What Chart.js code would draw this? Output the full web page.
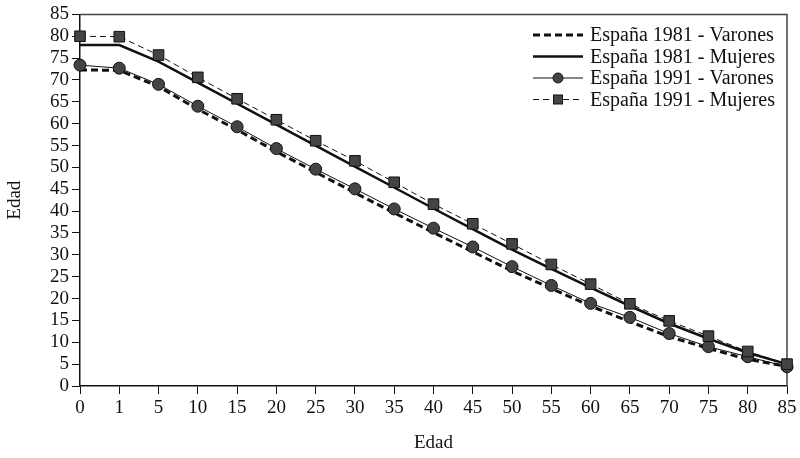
<!DOCTYPE html>
<html>
<head>
<meta charset="utf-8">
<script src="https://cdn.jsdelivr.net/npm/chart.js@4.4.1/dist/chart.umd.min.js"></script>
<style>
  html, body { margin: 0; padding: 0; background: #fff; }
  #chart { display: block; }
</style>
</head>
<body>
<canvas id="chart" width="800" height="458"></canvas>
<script>
var edades = ['0', '1', '5', '10', '15', '20', '25', '30', '35', '40', '45', '50', '55', '60', '65', '70', '75', '80', '85'];

var varones1981 = [72.3, 72.2, 68.5, 63.3, 58.6, 53.6, 48.9, 44.2, 39.6, 35.1, 30.7, 26.3, 22.3, 18.3, 14.7, 11.3, 8.6, 6.1, 4.5];
var mujeres1981 = [78.0, 78.0, 74.2, 69.4, 64.6, 59.8, 55.0, 50.2, 45.4, 40.6, 35.9, 31.2, 26.8, 22.5, 18.3, 14.3, 10.8, 7.6, 5.0];
var varones1991 = [73.4, 72.7, 69.0, 64.0, 59.3, 54.3, 49.6, 45.1, 40.5, 36.1, 31.8, 27.3, 23.0, 18.9, 15.7, 12.0, 9.0, 6.7, 4.4];
var mujeres1991 = [80.0, 79.9, 75.7, 70.6, 65.7, 60.9, 56.1, 51.5, 46.6, 41.6, 37.1, 32.5, 27.8, 23.3, 18.8, 14.9, 11.4, 7.9, 5.0];

var yTicks = [0, 5, 10, 15, 20, 25, 30, 35, 40, 45, 50, 55, 60, 65, 70, 75, 80, 85];

var FONT = '"Liberation Serif", "DejaVu Serif", serif';

// frame on top and right of the plot area
var framePlugin = {
    id: 'frame',
    beforeDatasetsDraw: function (chart) {
        var a = chart.chartArea, ctx = chart.ctx;
        ctx.save();
        ctx.strokeStyle = '#444';
        ctx.lineWidth = 1.5;
        ctx.beginPath();
        ctx.moveTo(a.left, a.top);
        ctx.lineTo(a.right, a.top);
        ctx.lineTo(a.right, a.bottom);
        ctx.stroke();
        ctx.restore();
    }
};

// legend drawn with line samples like the original
var legendPlugin = {
    id: 'lineLegend',
    afterDraw: function (chart) {
        var ctx = chart.ctx;
        var x0 = 533, x1 = 583, tx = 590, y = 35, step = 21.5;
        ctx.save();
        ctx.font = '20px ' + FONT;
        ctx.textBaseline = 'middle';
        ctx.fillStyle = '#111';
        chart.data.datasets.forEach(function (ds) {
            ctx.save();
            ctx.strokeStyle = ds.borderColor;
            ctx.lineWidth = ds.borderWidth;
            ctx.setLineDash(ds.borderDash || []);
            ctx.beginPath();
            ctx.moveTo(x0, y);
            ctx.lineTo(x1, y);
            ctx.stroke();
            ctx.setLineDash([]);
            var cx = (x0 + x1) / 2;
            if (ds.pointStyle === 'circle' && ds.pointRadius > 0) {
                ctx.beginPath();
                ctx.arc(cx, y, 5, 0, Math.PI * 2);
                ctx.fillStyle = ds.pointBackgroundColor;
                ctx.fill();
                ctx.lineWidth = 1;
                ctx.strokeStyle = '#111';
                ctx.stroke();
            } else if (ds.pointStyle === 'rect' && ds.pointRadius > 0) {
                ctx.fillStyle = ds.pointBackgroundColor;
                ctx.fillRect(cx - 4.5, y - 4.5, 9, 9);
                ctx.lineWidth = 1;
                ctx.strokeStyle = '#111';
                ctx.strokeRect(cx - 4.5, y - 4.5, 9, 9);
            }
            ctx.restore();
            ctx.fillText(ds.label, tx, y + 1);
            y += step;
        });
        ctx.restore();
    }
};

var ctx = document.getElementById('chart').getContext('2d');
var chart = new Chart(ctx, {
    type: 'line',
    data: {
        labels: edades,
        datasets: [{
            label: 'España 1981 - Varones',
            data: varones1981,
            borderColor: '#111',
            borderWidth: 3,
            borderDash: [7, 4],
            pointRadius: 0,
            pointStyle: false,
            tension: 0,
            order: 4
        }, {
            label: 'España 1981 - Mujeres',
            data: mujeres1981,
            borderColor: '#111',
            borderWidth: 2.5,
            pointRadius: 0,
            pointStyle: false,
            tension: 0,
            order: 3
        }, {
            label: 'España 1991 - Varones',
            data: varones1991,
            borderColor: '#111',
            borderWidth: 1,
            pointStyle: 'circle',
            pointRadius: 6,
            pointBackgroundColor: '#444',
            pointBorderColor: '#111',
            pointBorderWidth: 1,
            tension: 0,
            order: 2
        }, {
            label: 'España 1991 - Mujeres',
            data: mujeres1991,
            borderColor: '#111',
            borderWidth: 1,
            borderDash: [6, 4],
            pointStyle: 'rect',
            pointRadius: 7.5,
            pointBackgroundColor: '#444',
            pointBorderColor: '#111',
            pointBorderWidth: 1,
            tension: 0,
            order: 1
        }]
    },
    options: {
        responsive: false,
        animation: false,
        layout: { padding: { top: 12, right: 13, left: 0, bottom: 0 } },
        plugins: {
            legend: { display: false },
            tooltip: { enabled: false }
        },
        scales: {
            x: {
                offset: false,
                grid: { display: true, drawOnChartArea: false, drawTicks: true, tickLength: 8, color: '#111' },
                border: { display: true, color: '#111', width: 1.5 },
                ticks: { color: '#111', font: { family: FONT, size: 19 }, padding: 3, maxRotation: 0, autoSkip: false },
                title: { display: true, text: 'Edad', color: '#111', font: { family: FONT, size: 19 }, padding: { top: 14 } },
                afterFit: function (scale) { scale.height = 72; }
            },
            y: {
                min: 0,
                max: 85,
                afterBuildTicks: function (scale) {
                    scale.ticks = yTicks.map(function (v) { return { value: v }; });
                },
                grid: { display: true, drawOnChartArea: false, drawTicks: true, tickLength: 8, color: '#111' },
                border: { display: true, color: '#111', width: 1.5 },
                ticks: { color: '#111', font: { family: FONT, size: 19 }, padding: 3, autoSkip: false },
                title: { display: true, text: 'Edad', color: '#111', font: { family: FONT, size: 19 }, padding: { top: 4, bottom: 0 } },
                afterFit: function (scale) { scale.width = 80; }
            }
        }
    },
    plugins: [framePlugin, legendPlugin]
});
</script>
</body>
</html>
